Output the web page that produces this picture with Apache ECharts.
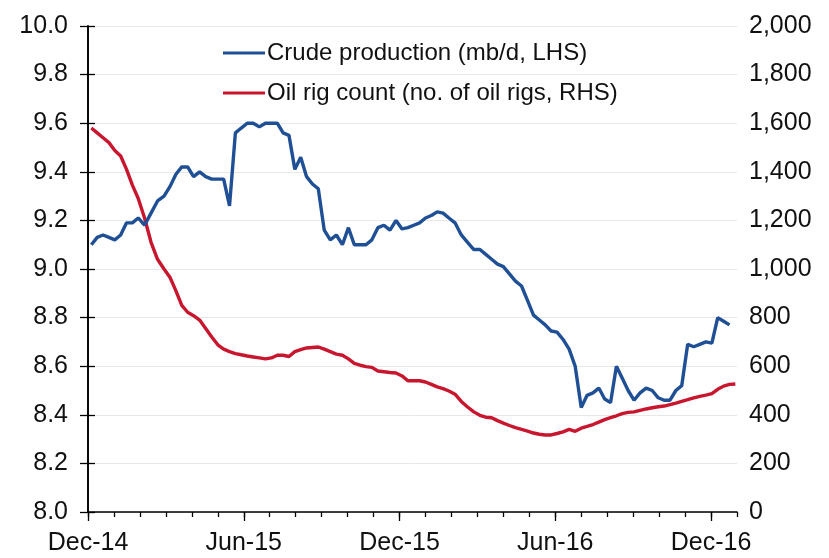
<!DOCTYPE html>
<html>
<head>
<meta charset="utf-8">
<script src="https://cdn.jsdelivr.net/npm/echarts@6/dist/echarts.min.js"></script>
<style>html,body{margin:0;padding:0;background:#fff}#c{width:829px;height:558px}</style>
</head>
<body>
<div id="c"></div>
<script>
// Weekly observations starting from this date
const startDate = '2014-12-05';
const tickLabels = ['Dec-14', 'Jun-15', 'Dec-15', 'Jun-16', 'Dec-16'];
const seriesNames = ['Crude production (mb/d, LHS)', 'Oil rig count (no. of oil rigs, RHS)'];

// US crude production, mb/d (weekly)
const crude = [
  9.10, 9.13, 9.14, 9.13, 9.12, 9.14, 9.19, 9.19, 9.21, 9.18,
  9.23, 9.28, 9.30, 9.34, 9.39, 9.42, 9.42, 9.38, 9.40, 9.38,
  9.37, 9.37, 9.37, 9.26, 9.56, 9.58, 9.60, 9.60, 9.585, 9.60,
  9.60, 9.60, 9.56, 9.55, 9.41, 9.46, 9.38, 9.35, 9.33, 9.16,
  9.12, 9.14, 9.10, 9.17, 9.10, 9.10, 9.10, 9.12, 9.17, 9.18,
  9.16, 9.20, 9.165, 9.17, 9.18, 9.19, 9.21, 9.22, 9.235, 9.23,
  9.21, 9.19, 9.14, 9.11, 9.08, 9.08, 9.06, 9.04, 9.02, 9.01,
  8.98, 8.95, 8.93, 8.87, 8.81, 8.79, 8.77, 8.745, 8.74, 8.71,
  8.67, 8.60, 8.43, 8.48, 8.49, 8.51, 8.465, 8.45, 8.60, 8.55,
  8.50, 8.46, 8.49, 8.51, 8.50, 8.47, 8.46, 8.46, 8.50, 8.52,
  8.69, 8.68, 8.69, 8.70, 8.695, 8.80, 8.785, 8.77
];

// US oil rig count (weekly)
const rigs = [
  1580, 1560, 1540, 1520, 1488, 1465, 1410, 1345, 1290, 1210,
  1110, 1040, 1000, 965, 910, 850, 822, 808, 790, 755,
  720, 688, 670, 660, 652, 647, 642, 638, 634, 630,
  634, 645, 645, 640, 660, 668, 675, 677, 679, 670,
  660, 650, 645, 630, 612, 604, 598, 595, 580, 577,
  574, 572, 560, 540, 540, 540, 535, 525, 515, 508,
  498, 485, 455, 432, 412, 398, 390, 388, 376, 366,
  356, 347, 340, 333, 325, 320, 317, 317, 323, 330,
  340, 332, 345, 352, 360, 370, 380, 388, 396, 405,
  410, 412, 418, 424, 429, 433, 436, 442, 448, 455,
  462, 470, 476, 481, 487, 505, 518, 525, 527
];

// Convert a date to months elapsed since 1 Dec 2014 (axis unit)
function monthPos(d) {
  const y = d.getUTCFullYear(), m = d.getUTCMonth(), day = d.getUTCDate();
  const dim = new Date(Date.UTC(y, m + 1, 0)).getUTCDate();
  return (y - 2014) * 12 + (m - 11) + (day - 1) / dim;
}
function weekX(i) {
  const d = new Date(startDate + 'T00:00:00Z');
  d.setUTCDate(d.getUTCDate() + 7 * i);
  return monthPos(d);
}
const crudeData = crude.map((v, i) => [weekX(i), v]);
const rigData = rigs.map((v, i) => [weekX(i), v]);

const FONT = 'Liberation Sans, Arial, sans-serif';
const TXT = '#111';
const chart = echarts.init(document.getElementById('c'), null, {renderer: 'canvas'});
chart.setOption({
  animation: false,
  backgroundColor: '#fff',
  grid: {left: 88, right: 92, top: 26, bottom: 46, containLabel: false},
  legend: {
    orient: 'vertical', left: 218, top: 36, itemWidth: 42, itemHeight: 3, itemGap: 16,
    icon: 'rect',
    textStyle: {fontFamily: FONT, fontSize: 24, color: TXT, padding: [0, 0, 0, -3]},
    data: seriesNames
  },
  xAxis: [
    {
      type: 'value', min: 0, max: 25, interval: 1,
      axisLine: {show: true, onZero: false, lineStyle: {color: '#000', width: 1.6}},
      axisTick: {show: true, length: 5, inside: false, lineStyle: {color: '#000', width: 1.3}},
      axisLabel: {show: false},
      splitLine: {show: false}
    },
    {
      type: 'value', min: 0, max: 25, interval: 6, position: 'bottom',
      axisLine: {show: false},
      axisTick: {show: true, length: 9, lineStyle: {color: '#000', width: 1.3}},
      axisLabel: {
        show: true, margin: 19, fontFamily: FONT, fontSize: 25, color: TXT,
        showMaxLabel: false,
        formatter: v => (v % 6 === 0 && tickLabels[v / 6]) ? tickLabels[v / 6] : ''
      },
      splitLine: {show: false}
    }
  ],
  yAxis: [
    {
      type: 'value', min: 8, max: 10, interval: 0.2, position: 'left',
      axisLine: {show: true, lineStyle: {color: '#000', width: 1.6}},
      axisTick: {show: true, length: 8, lineStyle: {color: '#000', width: 1.3}},
      axisLabel: {margin: 20, fontFamily: FONT, fontSize: 25, color: TXT, formatter: v => v.toFixed(1)},
      splitLine: {show: true, lineStyle: {color: '#e8e8e8', width: 1}}
    },
    {
      type: 'value', min: 0, max: 2000, interval: 200, position: 'right',
      axisLine: {show: true, lineStyle: {color: '#000', width: 1.6}},
      axisTick: {show: true, length: 7, lineStyle: {color: '#000', width: 1.3}},
      axisLabel: {margin: 12, fontFamily: FONT, fontSize: 25, color: TXT,
        formatter: v => v.toLocaleString('en-US')},
      splitLine: {show: false}
    }
  ],
  series: [
    {
      name: seriesNames[0], type: 'line', xAxisIndex: 0, yAxisIndex: 0,
      data: crudeData, showSymbol: false, symbol: 'none',
      lineStyle: {color: '#1f4f95', width: 3.4}, itemStyle: {color: '#1f4f95'}, z: 3
    },
    {
      name: seriesNames[1], type: 'line', xAxisIndex: 0, yAxisIndex: 1,
      data: rigData, showSymbol: false, symbol: 'none',
      lineStyle: {color: '#c8162f', width: 3.4}, itemStyle: {color: '#c8162f'}, z: 2
    }
  ]
});
</script>
</body>
</html>
